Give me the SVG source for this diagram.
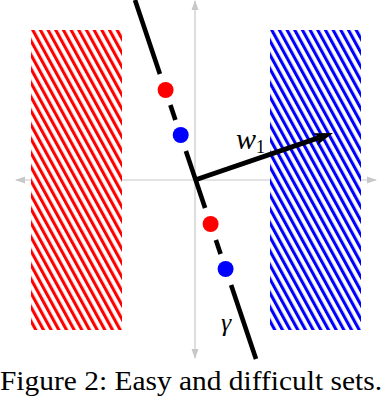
<svg xmlns="http://www.w3.org/2000/svg" width="390" height="396" viewBox="0 0 390 396">
  <style>
    .axis { stroke: #c8c8c8; stroke-width: 1.2; fill: none; }
    .gamma { stroke: #000; stroke-width: 4.6; fill: none; stroke-linecap: butt; }
    .lbl { font-family: "Liberation Serif", "Times New Roman", serif; fill: #000; }
  </style>
  <defs>
    <marker id="axhead" viewBox="0 0 10 8" refX="9" refY="4" markerWidth="10" markerHeight="8" markerUnits="userSpaceOnUse" orient="auto">
      <path d="M0,0.5 L10,4 L0,7.5 Z" fill="#c8c8c8"/>
    </marker>
    <pattern id="hatchRed" patternUnits="userSpaceOnUse" width="6.73" height="20" patternTransform="translate(31,30) rotate(-28.7)">
      <rect x="0" y="0" width="6.73" height="20" fill="#fff"/>
      <rect x="0" y="0" width="3.1" height="20" fill="#ff0000"/>
    </pattern>
    <pattern id="hatchBlue" patternUnits="userSpaceOnUse" width="6.73" height="20" patternTransform="translate(270,30) rotate(-28.7)">
      <rect x="0" y="0" width="6.73" height="20" fill="#fff"/>
      <rect x="0" y="0" width="3.1" height="20" fill="#0000ff"/>
    </pattern>
  </defs>

  <g id="connectors">
    <line id="x-axis" class="axis" x1="195" y1="180" x2="16" y2="180" marker-end="url(#axhead)"/>
    <line id="x-axis-pos" class="axis" x1="195" y1="180" x2="376" y2="180" marker-end="url(#axhead)"/>
    <line id="y-axis" class="axis" x1="195" y1="180" x2="195" y2="1" marker-end="url(#axhead)"/>
    <line id="y-axis-neg" class="axis" x1="195" y1="180" x2="195" y2="358" marker-end="url(#axhead)"/>
  </g>

  <g id="red-set">
    <rect x="31" y="30" width="91" height="300" fill="url(#hatchRed)"/>
  </g>
  <g id="blue-set">
    <rect x="270" y="30" width="91" height="300" fill="url(#hatchBlue)"/>
  </g>

  <g id="gamma-line">
    <line class="gamma" x1="135" y1="0" x2="159.9" y2="74"/>
    <line class="gamma" x1="170.4" y1="105" x2="175.4" y2="120"/>
    <line class="gamma" x1="185.9" y1="151" x2="205.1" y2="208"/>
    <line class="gamma" x1="215.9" y1="240" x2="220.6" y2="254"/>
    <line class="gamma" x1="231.1" y1="285" x2="256" y2="359"/>
    <text class="lbl" x="221" y="331" font-size="26" font-style="italic">γ</text>
  </g>

  <g id="points">
    <circle cx="165.6" cy="90" r="8" fill="#ff0000"/>
    <circle cx="180.7" cy="135" r="8" fill="#0000ff"/>
    <circle cx="210.6" cy="224" r="8" fill="#ff0000"/>
    <circle cx="225.6" cy="269" r="8" fill="#0000ff"/>
  </g>

  <g id="w1-arrow">
    <line x1="195" y1="180" x2="319" y2="137.7" stroke="#000" stroke-width="5"/>
    <path d="M333,133 L317.3,144.9 L319.2,137.6 L312.9,133.3 Z" fill="#000"/>
    <text class="lbl" x="236" y="149" font-size="30" font-style="italic">w<tspan font-size="18" font-style="normal" dy="4">1</tspan></text>
  </g>

  <g id="caption">
    <text class="lbl" x="0" y="390" font-size="28" textLength="382" lengthAdjust="spacingAndGlyphs">Figure 2: Easy and difficult sets.</text>
  </g>
</svg>
